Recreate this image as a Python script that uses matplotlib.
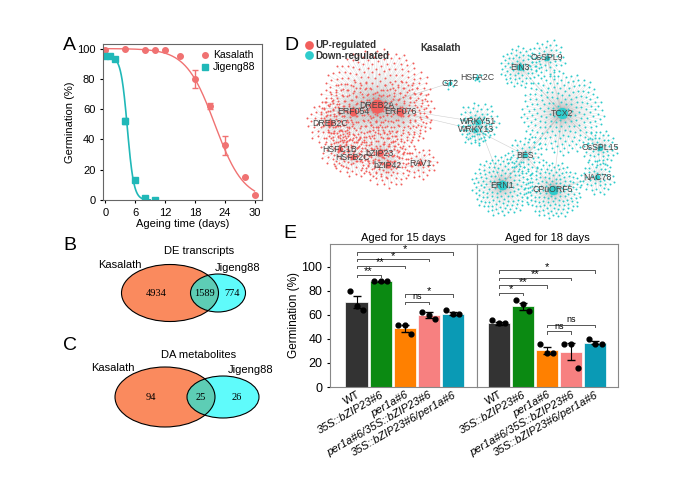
import matplotlib
matplotlib.use("Agg")
import matplotlib.pyplot as plt
import numpy as np
from matplotlib.patches import Ellipse
from matplotlib.lines import Line2D
from matplotlib.collections import LineCollection

plt.rcParams["font.family"] = ["Liberation Sans", "DejaVu Sans"]

# ---- panel A data
kas_days = [0, 4, 8, 10, 12, 15, 18, 21, 24, 28, 30]
kas_germ = [99, 100, 99, 99, 99, 95, 80, 62, 36, 15, 3]
kas_err = [0, 0, 0, 0, 0, 0, 6, 2, 6, 0, 0]
jig_days = [0, 1, 2, 4, 6, 8, 10]
jig_germ = [95, 95, 93, 52, 13, 1, 0]
jig_err = [0, 0, 0, 2, 0, 0, 0]
# logistic fit parameters (top, midpoint, slope)
kas_fit = (100, 22.0, 2.9)
jig_fit = (95, 4.4, 0.65)

# ---- panel B/C data
de_counts = [4934, 1589, 774]
da_counts = [94, 25, 26]

# ---- panel D data: hub name, x, y, n satellites, cluster radius, regulation
hub_names = ["DREB2A", "ERF054", "ERF076", "DREB2C", "HSFC1B", "HSFB2C", "bZIP23",
             "bZIP42", "RAV1", "GT2", "HSFA2C", "EIN3", "OsSPL9", "TCX2", "WRKY51",
             "WRKY13", "BES", "OsSPL15", "NAC78", "ERN1", "CPuORF5"]
hub_x = [377, 353, 400, 330, 340, 353, 380, 388, 420, 450, 477, 520, 547, 562, 478,
         476, 525, 600, 597, 502, 553]
hub_y = [106, 112, 112, 123, 149, 157, 153, 165, 163, 83, 78, 67, 58, 113, 122,
         130, 155, 148, 177, 185, 190]
hub_n = [300, 100, 100, 60, 45, 45, 70, 60, 35, 6, 5, 70, 45, 200, 55, 35, 45, 45, 45,
         150, 140]
hub_r = [58, 32, 32, 24, 21, 21, 26, 24, 17, 6, 5, 21, 19, 42, 21, 16, 19, 18, 18,
         31, 29]
hub_up = [True] * 9 + [False] * 12
hub_links = [(0, 14), (2, 15), (13, 16), (16, 19), (16, 20), (13, 19), (13, 20),
             (11, 13), (12, 13), (14, 19), (17, 13), (18, 20), (15, 16), (9, 0)]

# ---- panel E data
genotypes = ["WT", "35S::bZIP23#6", "per1a#6", "per1a#6/35S::bZIP23#6",
             "35S::bZIP23#6/per1a#6"]
bar_colors = ["#333333", "#0b8a12", "#ff8000", "#f78080", "#0a9ab5"]
d15_mean = [71, 88, 49, 60, 61]
d15_err = [5, 0.5, 3, 2.5, 1]
d15_pts = [[80, 67, 64], [88, 88, 88], [52, 52, 44], [62, 60, 57], [64, 61, 61]]
d18_mean = [53, 67, 30.5, 29.5, 37]
d18_err = [1.5, 3, 3, 7, 1.5]
d18_pts = [[56, 53, 53], [72, 69, 63], [36, 28, 28], [36, 36, 16], [40, 36, 36]]
d15_sig = [(0, 1, 93.5, "**"), (0, 2, 101, "**"), (0, 3, 106.5, "*"), (0, 4, 112, "*"),
           (2, 3, 71, "ns"), (2, 4, 77, "*")]
d18_sig = [(0, 1, 78.5, "*"), (0, 2, 84.5, "**"), (0, 3, 91, "**"), (0, 4, 97, "*"),
           (2, 3, 46.5, "ns"), (2, 4, 52, "ns")]

KAS_C = "#f07272"
JIG_C = "#20b8b8"

fig = plt.figure(figsize=(7, 4.82), dpi=100)
W, H = 700, 482


def fr(l, t, r, b):
    return [l / W, 1 - b / H, (r - l) / W, (b - t) / H]


# overlay axes in pixel coords
ov = fig.add_axes([0, 0, 1, 1], zorder=0)
ov.set_xlim(0, W)
ov.set_ylim(H, 0)
ov.axis("off")

# ---- A
axA = fig.add_axes(fr(103, 44, 262, 200))
t = np.linspace(0, 30, 300)
top, mid, s = kas_fit
axA.plot(t, top / (1 + np.exp((t - mid) / s)), color=KAS_C, lw=1)
t2 = np.linspace(0, 9, 200)
top, mid, s = jig_fit
axA.plot(t2, top / (1 + np.exp((t2 - mid) / s)), color=JIG_C, lw=1.2)
axA.errorbar(kas_days, kas_germ, yerr=kas_err, fmt="o", color=KAS_C, ms=4, capsize=2,
             lw=1)
axA.errorbar(jig_days, jig_germ, yerr=jig_err, fmt="s", color=JIG_C, ms=4, capsize=2,
             lw=1)
axA.set_xlim(-0.5, 31.5)
axA.set_ylim(0, 103)
axA.set_xticks([0, 6, 12, 18, 24, 30])
axA.set_yticks([0, 20, 40, 60, 80, 100])
axA.tick_params(labelsize=8, length=2)
axA.set_xlabel("Ageing time (days)", fontsize=8, labelpad=1)
axA.set_ylabel("Germination (%)", fontsize=8, labelpad=1)
for sp in axA.spines.values():
    sp.set_color("#666666")
handles = [Line2D([], [], marker="o", ls="none", color=KAS_C, ms=4),
           Line2D([], [], marker="s", ls="none", color=JIG_C, ms=4)]
axA.legend(handles, ["Kasalath", "Jigeng88"], loc="upper right", fontsize=7.5,
           frameon=False, handlelength=1, handletextpad=0.3, borderaxespad=0.2,
           labelspacing=0.2)


# ---- B / C venns
def venn(cx1, cy, w1, h1, cx2, w2, h2, counts, title, ty):
    ov.add_patch(Ellipse((cx1, cy), w1, h1, fc="#fa8a5e", ec="none"))
    ov.add_patch(Ellipse((cx2, cy), w2, h2, fc="#5ffbfb", ec="none"))
    e1 = Ellipse((cx1, cy), w1, h1, fc="none", ec="none")
    ov.add_patch(e1)
    e3 = Ellipse((cx2, cy), w2, h2, fc="#5dcdb5", ec="none")
    ov.add_patch(e3)
    e3.set_clip_path(e1)
    ov.add_patch(Ellipse((cx1, cy), w1, h1, fc="none", ec="black", lw=0.8))
    ov.add_patch(Ellipse((cx2, cy), w2, h2, fc="none", ec="black", lw=0.8))
    l1 = cx2 - w2 / 2
    r1 = cx1 + w1 / 2
    r2 = cx2 + w2 / 2
    sf = dict(family="Liberation Serif", fontsize=7.5, ha="center", va="center")
    ov.text((cx1 - w1 / 2 + l1) / 2, cy, str(counts[0]), **sf)
    ov.text((l1 + r1) / 2, cy, str(counts[1]), **sf)
    ov.text((r1 + r2) / 2, cy, str(counts[2]), **sf)
    ov.text((cx1 + cx2) / 2 + 5, ty, title, fontsize=8, ha="center", va="center")
    ov.text(cx1 - w1 / 2 - 2, cy - h1 / 2 + 6, "Kasalath", fontsize=8, ha="center",
            va="bottom")
    ov.text(r2 - 8, cy - h2 / 2 - 1, "Jigeng88", fontsize=8, ha="center", va="bottom")


venn(170, 293, 97, 57, 218, 55, 38, de_counts, "DE transcripts", 251)
venn(165, 397, 100, 60, 223, 72, 42, da_counts, "DA metabolites", 355)

# ---- D network
golden = np.pi * (3 - np.sqrt(5))
for i, j in hub_links:
    ov.plot([hub_x[i], hub_x[j]], [hub_y[i], hub_y[j]], color="#bbbbbb", lw=0.4,
            alpha=0.7, zorder=1)
for name, x, y, n, r, up in zip(hub_names, hub_x, hub_y, hub_n, hub_r, hub_up):
    col = "#f25f5c" if up else "#2ecccc"
    k = np.arange(1, n + 1)
    rad = r * np.sqrt(k / n)
    ang = k * golden
    sx = x + rad * np.cos(ang)
    sy = y + rad * np.sin(ang)
    segs = np.array([[[x, y], [a, b]] for a, b in zip(sx, sy)])
    ov.add_collection(LineCollection(segs, colors="#999999", lw=0.2, alpha=0.5,
                                     zorder=1))
    ov.scatter(sx, sy, s=2, color=col, lw=0, zorder=2)
    ov.scatter([x], [y], s=max(8, n / 3), color=col, lw=0, zorder=3)
    ov.text(x, y, name, fontsize=6.3, color="#444444", ha="center", va="center",
            zorder=4)
ov.scatter([309], [45], s=40, color="#f25f5c", lw=0)
ov.scatter([309], [55], s=40, color="#2ecccc", lw=0)
ov.text(315, 45, "UP-regulated", fontsize=7, weight="bold", color="#333333", va="center")
ov.text(315, 56, "Down-regulated", fontsize=7, weight="bold", color="#333333",
        va="center")
ov.text(420, 48, "Kasalath", fontsize=7, weight="bold", color="#333333", va="center")

# ---- E bars
axL = fig.add_axes(fr(330, 244, 477, 387))
axR = fig.add_axes(fr(477, 244, 618, 387), sharey=axL)
for ax, means, errs, pts, sig, title, xl in [
        (axL, d15_mean, d15_err, d15_pts, d15_sig, "Aged for 15 days", (-1.1, 5.0)),
        (axR, d18_mean, d18_err, d18_pts, d18_sig, "Aged for 18 days", (-0.9, 4.95))]:
    x = np.arange(len(means))
    ax.bar(x, means, 0.92, color=bar_colors, edgecolor="white", lw=0.5)
    ax.errorbar(x, means, yerr=errs, fmt="none", ecolor="black", capsize=3, lw=0.8)
    for xi, p in zip(x, pts):
        ax.scatter(xi + np.array([-0.27, 0, 0.27]), p, s=12, color="black", zorder=3)
    for a, b, y, lab in sig:
        ax.plot([a, a, b, b], [y - 2, y, y, y - 2], color="#555555", lw=0.7)
        if lab == "ns":
            ax.text((a + b) / 2, y + 0.5, lab, fontsize=6.5, ha="center", va="bottom")
        else:
            ax.text((a + b) / 2, y - 1.5, lab, fontsize=8, ha="center", va="bottom")
    ax.set_xlim(*xl)
    ax.set_ylim(0, 119)
    ax.set_title(title, fontsize=8, pad=2)
    ax.set_xticks(x)
    ax.set_xticklabels(genotypes, rotation=30, ha="right", rotation_mode="anchor",
                       fontsize=8)
    for lbl in ax.get_xticklabels()[1:]:
        lbl.set_style("italic")
    ax.tick_params(axis="x", length=0, pad=2)
    for sp in ax.spines.values():
        sp.set_color("#888888")
axL.set_yticks([0, 20, 40, 60, 80, 100])
axL.tick_params(axis="y", labelsize=9, length=2)
axL.set_ylabel("Germination (%)", fontsize=8.5, labelpad=1)
axR.tick_params(axis="y", left=False, labelleft=False)

for lab, x, y in [("A", 63, 45), ("B", 63, 245), ("C", 63, 345), ("D", 284, 45),
                  ("E", 283, 233)]:
    ov.text(x, y, lab, fontsize=14, ha="left", va="center")

fig.savefig("out.png", dpi=100)
